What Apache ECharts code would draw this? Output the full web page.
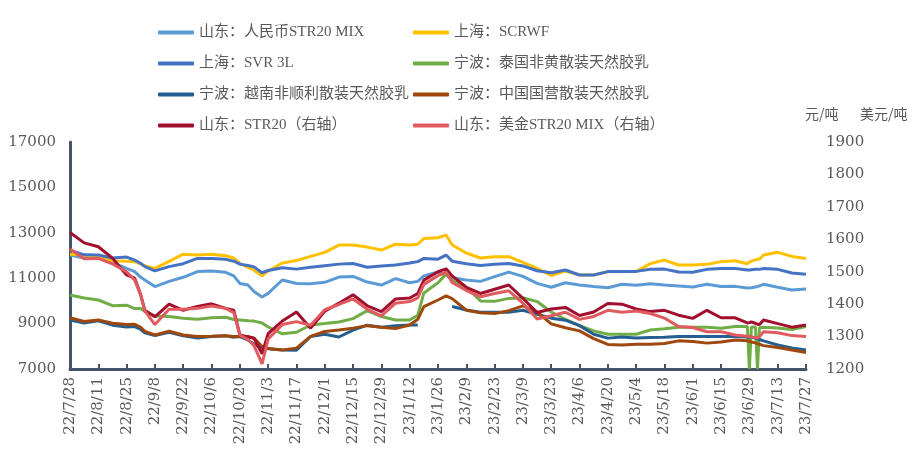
<!DOCTYPE html>
<html><head><meta charset="utf-8">
<script src="https://cdn.jsdelivr.net/npm/echarts@6/dist/echarts.min.js"></script>
<style>html,body{margin:0;padding:0;background:#fff}#c{width:924px;height:461px}</style>
</head><body><div id="c"></div>
<script>
// days since 2022-07-28
var days = [0,7,14,21,28,32,35,37,42,49,56,63,70,77,81,84,88,91,95,98,105,112,119,126,133,140,147,154,161,168,172,175,182,186,189,196,203,210,217,224,231,238,245,252,259,266,273,280,287,294,301,308,315,322,329,335,336,337,339,340,341,343,350,357,364];
var tickLabels = ['22/7/28','22/8/11','22/8/25','22/9/8','22/9/22','22/10/6','22/10/20','22/11/3','22/11/17','22/12/1','22/12/15','22/12/29','23/1/12','23/1/26','23/2/9','23/2/23','23/3/9','23/3/23','23/4/6','23/4/20','23/5/4','23/5/18','23/6/1','23/6/15','23/6/29','23/7/13','23/7/27'];
var names = ['山东：人民币STR20 MIX','上海：SCRWF','上海：SVR 3L','宁波：泰国非黄散装天然胶乳','宁波：越南非顺利散装天然胶乳','宁波：中国国营散装天然胶乳','山东：STR20（右轴）','山东：美金STR20 MIX（右轴）'];
var sdRmbMix = [12020,11890,11950,11680,11430,11290,11040,10920,10630,10860,11040,11290,11320,11260,11100,10770,10700,10410,10170,10330,10920,10770,10760,10820,11050,11080,10830,10700,10980,10800,10860,11100,11270,11140,11020,10920,10860,11070,11270,11080,10770,10600,10800,10700,10630,10580,10730,10690,10760,10700,10660,10610,10730,10630,10640,10570,10570,10580,10610,10640,10660,10730,10600,10480,10520];
var shScrwf = [12060,12020,11950,11770,11750,11730,11620,11550,11430,11740,12060,12020,12050,11990,11890,11650,11480,11350,11110,11320,11670,11780,11960,12140,12460,12460,12370,12240,12500,12460,12500,12750,12780,12900,12460,12110,11890,11950,11950,11700,11430,11120,11320,11140,11140,11290,11300,11290,11640,11800,11580,11580,11610,11730,11770,11640,11710,11750,11810,11830,11840,12020,12140,11960,11870];
var shSvr3l = [12240,12030,12020,11890,11930,11800,11650,11510,11320,11510,11640,11870,11870,11830,11750,11620,11560,11500,11240,11340,11460,11400,11480,11550,11620,11650,11480,11540,11580,11670,11730,11870,11840,12020,11750,11640,11560,11610,11650,11540,11330,11240,11360,11140,11140,11290,11290,11300,11390,11400,11270,11260,11390,11430,11430,11360,11360,11370,11390,11390,11390,11430,11390,11230,11170];
var nbThai = [10260,10130,10040,9790,9810,9660,9660,9530,9340,9310,9240,9190,9260,9280,9180,9160,9130,9110,9030,8850,8550,8620,8940,9000,9070,9220,9570,9310,9160,9160,9370,10350,10800,11180,10910,10600,10000,9980,10110,10140,9970,9510,9190,8910,8680,8530,8530,8530,8720,8770,8840,8840,8840,8800,8870,8870,7000,8850,8850,7000,8820,8840,8810,8740,8870];
var nbVietnam = [9160,9030,9120,8930,8850,8870,8740,8590,8470,8620,8460,8360,8430,8460,8400,8430,8280,8090,7930,7890,7840,7830,8430,8530,8410,8710,8930,8840,8910,8940,8940,null,null,null,9750,9600,9500,9500,9500,9590,9410,9240,9150,8910,8530,8360,8410,8370,8390,8400,8430,8430,8430,8430,8430,8410,8400,8400,8360,8330,8300,8240,8060,7930,7840];
var nbChina = [9260,9090,9160,9020,8960,8970,8840,8660,8500,8660,8500,8430,8440,8460,8430,8430,8430,8360,7990,7900,7840,7920,8440,8650,8720,8800,8910,8840,8780,8940,9190,9750,10040,10220,10100,9590,9480,9440,9570,9780,9510,8990,8820,8680,8340,8080,8060,8090,8090,8120,8240,8210,8140,8190,8280,8240,8220,8190,8150,8120,8090,8030,7950,7840,7730];
var sdStr20 = [1621,1589,1577,1542,1490,1480,1428,1381,1361,1400,1381,1393,1401,1387,1381,1305,1299,1295,1247,1309,1348,1376,1326,1378,1403,1429,1395,1377,1416,1419,1433,1474,1500,1509,1487,1452,1433,1446,1459,1418,1374,1385,1390,1365,1376,1402,1400,1385,1377,1381,1366,1356,1381,1358,1358,1342,1343,1345,1341,1338,1337,1351,1340,1329,1336];
var sdUsdMix = [1570,1540,1541,1524,1500,1474,1428,1379,1337,1384,1384,1387,1394,1387,1374,1305,1291,1272,1216,1293,1337,1346,1335,1383,1399,1416,1384,1364,1403,1408,1419,1461,1488,1499,1467,1442,1423,1433,1441,1403,1354,1364,1375,1353,1362,1381,1375,1379,1371,1357,1331,1328,1315,1315,1305,1301,1300,1299,1297,1295,1300,1315,1312,1303,1300];

var colors = ['#5B9BD5','#FFC000','#4472C4','#70AD47','#255E91','#9E480E','#A20F2E','#E05A5E'];
var seriesVals = [sdRmbMix, shScrwf, shSvr3l, nbThai, nbVietnam, nbChina, sdStr20, sdUsdMix];
var axisIdx = [0,0,0,0,0,0,1,1];
function pairs(arr){ return days.map(function(d,i){ return [d, arr[i] == null ? '-' : arr[i]]; }); }
var series = seriesVals.map(function(v,i){
  return {name:names[i], type:'line', yAxisIndex:axisIdx[i], data:pairs(v), showSymbol:false, symbol:'none',
    lineStyle:{width:3, color:colors[i]}, itemStyle:{color:colors[i]}, connectNulls:false, animation:false};
});
var plain = function(v){ return String(v); };
var numFont = {fontFamily:'DejaVu Serif', fontSize:15, color:'#595959'};
var legText = {fontFamily:"'Liberation Serif','Noto Sans CJK SC'", fontSize:15, color:'#595959'};
var legCommon = {orient:'vertical', top:20, itemGap:16, itemWidth:36, itemHeight:4, icon:'roundRect', textStyle:legText, selectedMode:false};
var chart = echarts.init(document.getElementById('c'), null, {renderer:'canvas'});
chart.setOption({
  animation:false,
  color: colors,
  grid:{left:70, right:118, top:142, bottom:92, containLabel:false},
  legend:[
    Object.assign({left:153, data:[names[0],names[2],names[4],names[6]]}, legCommon),
    Object.assign({left:408, data:[names[1],names[3],names[5],names[7]]}, legCommon)
  ],
  xAxis:{type:'value', min:0, max:364, interval:14,
    axisLine:{onZero:false, lineStyle:{color:'#44546A', width:3}},
    axisTick:{show:true, inside:true, length:5, lineStyle:{color:'#44546A', width:2}},
    splitLine:{show:false},
    axisLabel:Object.assign({rotate:90, margin:8, formatter:function(v){ return tickLabels[Math.round(v/14)] || ''; }}, numFont)
  },
  yAxis:[
    {type:'value', min:7000, max:17000, interval:2000, position:'left',
      axisLine:{show:true, lineStyle:{color:'#44546A', width:3}}, axisTick:{show:false}, splitLine:{show:false},
      axisLabel:Object.assign({margin:14, formatter:plain}, numFont)},
    {type:'value', min:1200, max:1900, interval:100, position:'right',
      axisLine:{show:false}, axisTick:{show:false}, splitLine:{show:false},
      axisLabel:Object.assign({margin:20, formatter:plain}, numFont)}
  ],
  graphic:[
    {type:'text', left:805, top:107, style:{text:'元/吨', font:'14px "Noto Sans CJK SC"', fill:'#595959'}},
    {type:'text', left:860, top:107, style:{text:'美元/吨', font:'14px "Noto Sans CJK SC"', fill:'#595959'}}
  ],
  series: series
});
</script></body></html>
